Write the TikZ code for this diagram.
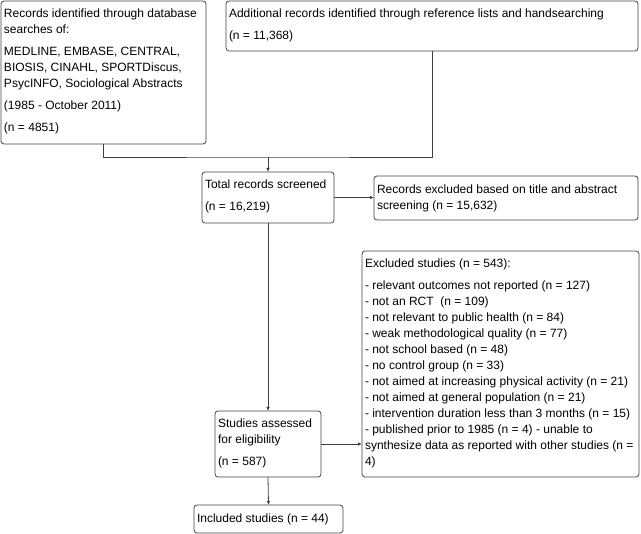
\documentclass[tikz,border=0pt]{standalone}
\usepackage{fontspec}
\setmainfont{Liberation Sans}
\usetikzlibrary{arrows.meta}
\newcommand\tpbx[3]{\hspace*{3pt}\parbox[c][#2pt][t]{\dimexpr#1pt-3pt\relax}{\raggedright\rule{0pt}{16.3pt}#3}}
\newcommand\ctbx[2]{\hspace*{3pt}\parbox{\dimexpr#1pt-3pt\relax}{\raggedright #2}}
\tikzset{
  flowbox/.style={draw=black!75, line width=0.8pt, rounded corners=3pt, inner sep=0pt, outer sep=0pt,
    anchor=north west, font=\fontsize{12}{16}\selectfont, text=black},
  conn/.style={draw=black!75, line width=0.8pt},
  arr/.style={-{Latex[length=4pt,width=3.5pt]}}
}
\begin{document}
\begin{tikzpicture}[x=1pt,y=-1pt]
\useasboundingbox (0,0) rectangle (641,534);
\node[flowbox] (A) at (1,1) {\tpbx{205}{143}{Records identified through database\\searches of:\\[6pt]MEDLINE, EMBASE, CENTRAL,\\BIOSIS, CINAHL, SPORTDiscus,\\PsycINFO, Sociological Abstracts\\[6pt](1985 - October 2011)\\[6pt](n = 4851)}};
\node[flowbox] (B) at (226,1) {\tpbx{412}{50}{Additional records identified through reference lists and handsearching\\[6pt](n = 11,368)}};
\node[flowbox] (T) at (202,172) {\tpbx{132}{51}{Total records screened\\[6pt](n = 16,219)}};
\node[flowbox, minimum width=264pt, minimum height=44pt] (E1) at (374,176) {\ctbx{264}{Records excluded based on title and abstract\\screening (n = 15,632)}};
\node[flowbox] (E2) at (362,251) {\tpbx{277}{226}{Excluded studies (n = 543):\\[6pt]- relevant outcomes not reported (n = 127)\\- not an RCT\ \ (n = 109)\\- not relevant to public health (n = 84)\\- weak methodological quality (n = 77)\\- not school based (n = 48)\\- no control group (n = 33)\\- not aimed at increasing physical activity (n = 21)\\- not aimed at general population (n = 21)\\- intervention duration less than 3 months (n = 15)\\- published prior to 1985 (n = 4) - unable to\\synthesize data as reported with other studies (n =\\4)}};
\node[flowbox] (S) at (215,411) {\tpbx{106}{66}{Studies assessed\\for eligibility\\[6pt](n = 587)}};
\node[flowbox, minimum width=149pt, minimum height=28pt] (I) at (194,505) {\ctbx{149}{Included studies (n = 44)}};
\coordinate (jn) at (268,157);
\draw[conn] (A.south) |- (jn) -| (B.south);
\draw[conn,arr] (jn) -- (T.north);
\draw[conn,arr] (T.east) -- (T.east -| E1.west);
\draw[conn,arr] (T.south) -- (S.north);
\draw[conn,arr] (S.east) -- (S.east -| E2.west);
\draw[conn,arr] (S.south) -- (I.north);
\end{tikzpicture}
\end{document}
